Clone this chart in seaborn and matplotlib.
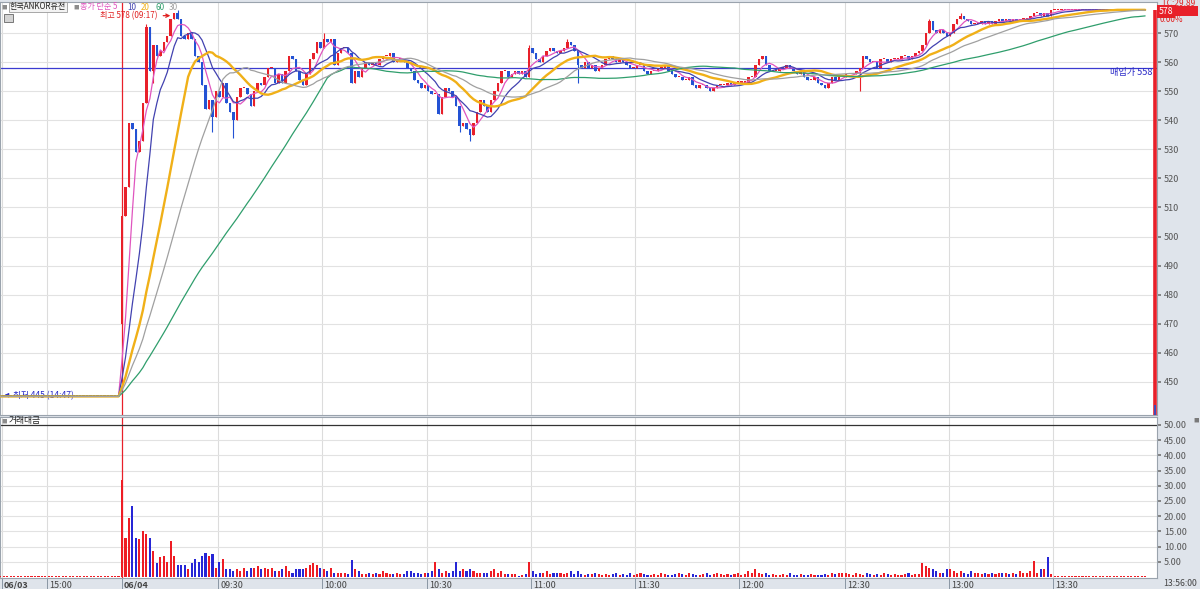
import pandas as pd
import seaborn as sns
import matplotlib.pyplot as plt
from matplotlib.patches import Rectangle
from matplotlib.transforms import ScaledTranslation

sns.set_theme(style="white")
plt.rcParams["font.family"] = ["Noto Sans CJK KR", "DejaVu Sans"]

# 06/03 afternoon: price pinned at 445 (only the last bars are on screen)
prev_close = [445, 445, 445, 445, 445, 445, 445, 445, 445, 445, 445, 445, 445, 445, 445,
              445, 445, 445, 445, 445, 445, 445, 445, 445, 445, 445, 445, 445, 445, 445,
              445, 445, 445, 445, 445, 445, 445, 445, 445, 445, 445, 445, 445, 445, 445,
              445, 445, 445, 445, 445, 445, 445, 445, 445, 445, 445, 445, 445, 445, 445]
prev_vol = [0.3, 0.4, 0.3, 0.3, 0.4, 0.3, 0.3, 0.4, 0.3, 0.3, 0.4, 0.3, 0.3, 0.4, 0.3,
            0.3, 0.4, 0.3, 0.3, 0.4, 0.3, 0.3, 0.4, 0.3, 0.3, 0.4, 0.3, 0.3, 0.4, 0.3,
            0.3, 0.4, 0.3, 0.3, 0.4, 0.3, 0.3, 0.4, 0.3, 0.3, 0.4, 0.3, 0.3, 0.4, 0.3,
            0.3, 0.4, 0.3, 0.3, 0.4, 0.3, 0.3, 0.4, 0.3, 0.3, 0.4, 0.3, 0.3, 0.4, 0.5]

# 06/04 minute bars
first_open = 470
close_0604 = [
    507, 517, 539, 537, 529, 533, 546, 572, 557, 566,
    562, 564, 567, 569, 575, 577, 575, 569, 568, 570,
    568, 562, 560, 552, 544, 547, 541, 550, 548, 553,
    546, 543, 540, 548, 551, 551, 549, 545, 550, 553,
    552, 555, 558, 558, 553, 556, 553, 557, 562, 561,
    557, 554, 552, 556, 561, 563, 567, 565, 568, 567,
    568, 559, 563, 565, 565, 563, 553, 557, 555, 558,
    560, 559, 560, 559, 561, 562, 562, 563, 560, 561,
    561, 560, 558, 557, 554, 553, 551, 552, 550, 549,
    549, 542, 548, 551, 550, 548, 545, 538, 539, 537,
    535, 539, 543, 547, 545, 543, 547, 550, 553, 557,
    557, 555, 556, 557, 556, 557, 555, 565, 563, 561,
    560, 562, 564, 565, 564, 563, 564, 565, 567, 566,
    564, 559, 558, 560, 558, 559, 557, 558, 559, 561,
    562, 561, 560, 561, 560, 559, 558, 558, 559, 559,
    557, 556, 557, 557, 558, 558, 559, 557, 556, 555,
    555, 554, 554, 555, 552, 551, 552, 552, 551, 550,
    551, 552, 552, 552, 553, 552, 553, 553, 553, 553,
    555, 555, 559, 561, 562, 559, 557, 557, 557, 558,
    558, 559, 558, 557, 556, 557, 555, 554, 554, 555,
    553, 552, 551, 553, 555, 554, 555, 555, 556, 556,
    556, 557, 558, 562, 561, 560, 560, 558, 561, 561,
    560, 561, 561, 561, 562, 562, 561, 562, 563, 564,
    566, 570, 574, 571, 570, 571, 570, 569, 570, 573,
    575, 576, 575, 574, 573, 573, 573, 574, 573, 574,
    573, 574, 575, 574, 575, 574, 575, 574, 575, 575,
    575, 576, 577, 577, 576, 577, 576, 578, 578, 578,
    578, 578, 578, 578, 578, 578, 578, 578, 578, 578,
    578, 578, 578, 578, 578, 578, 578, 578, 578, 578,
    578, 578, 578, 578, 578]
vol_0604 = [
    32, 13, 19.5, 23.5, 13, 12.5, 15, 14, 13, 8.5,
    4.5, 6.5, 7, 5, 12, 7, 4, 4, 4, 2.5,
    4.5, 6, 5, 7, 8, 7, 7.5, 3, 5, 6,
    2.5, 2.5, 2, 2.5, 2, 3, 2, 3, 3, 3.5,
    2.5, 3, 2.5, 3, 2, 2, 2.5, 3.5, 2, 1.5,
    2.5, 2.5, 2.5, 3, 4, 4.5, 4, 3, 2.5, 2,
    3, 1.5, 1.5, 1.5, 1.5, 1, 5.5, 2.5, 2, 1,
    1, 1.5, 1, 1.5, 1, 2, 1.5, 1, 1, 1.5,
    1, 1, 2, 2, 1.5, 1.5, 1, 1.5, 1.5, 2,
    5, 2.5, 1.5, 2, 1.5, 2, 4.8, 2, 2.5, 2,
    2.5, 2, 1.5, 1.5, 1.5, 1.5, 2, 2.5, 1.5, 2,
    1, 1, 1, 1, 0.5, 0.8, 1, 5, 2, 1,
    1.5, 1.5, 2, 1, 1.5, 1.2, 1.5, 1, 1.5, 2,
    1, 2, 1, 0.8, 1, 1, 1.2, 1, 0.8, 1,
    0.8, 1, 1.5, 0.8, 1, 0.6, 1.2, 0.8, 1, 1.5,
    1, 0.8, 0.6, 1, 0.8, 1.2, 1, 0.6, 0.8, 1,
    1.5, 1, 0.8, 1.2, 1, 0.6, 0.8, 1, 1.2, 0.8,
    1, 1.5, 1, 0.8, 1, 0.6, 1, 1.2, 0.8, 1,
    2, 1.5, 2.5, 1.5, 1, 1.2, 0.8, 1, 0.6, 0.8,
    1, 0.8, 1.2, 0.6, 0.8, 1, 0.6, 0.8, 1, 0.6,
    0.8, 0.6, 1, 0.8, 1.2, 1, 1.5, 1.2, 1.5, 1,
    0.8, 1.2, 1, 0.8, 1.2, 1, 0.8, 1, 0.8, 1.2,
    1, 0.8, 1, 0.6, 0.8, 1, 1.2, 0.8, 1, 1,
    4.5, 3.5, 3, 2.5, 2, 1.5, 1.5, 2.5, 2.5, 2,
    1.5, 2, 1.5, 1, 2, 1.5, 1.5, 1, 1.5, 1,
    1.5, 1, 1.5, 1.5, 1.5, 1, 1.5, 1, 2, 1.5,
    1.5, 2, 5.2, 1.5, 2.5, 2.5, 6.5, 1, 0.5, 0.5,
    0.3, 0.5, 0.3, 0.3, 0.5, 0.3, 0.3, 0.5, 0.3, 0.3,
    0.5, 0.3, 0.3, 0.3, 0.5, 0.3, 0.3, 0.3, 0.5, 0.3,
    0.3, 0.3, 0.5, 0.3, 0.3]

# wick ends that stick out of the bodies (06/04 bar number -> price)
wick_high = {7: 573, 16: 578, 58: 570, 117: 566, 128: 568, 232: 575, 241: 577}
wick_low = {9: 553, 26: 536, 32: 534, 97: 536, 100: 533, 131: 553, 212: 550}

ma_periods = [5, 10, 20, 60, 30]
ma_colors = ["#e055bf", "#4242b0", "#f0b018", "#2f9e6c", "#a0a0a0"]
ma_widths = [0.9, 0.9, 1.7, 0.9, 0.9]

tick_labels = ["06/03", "15:00", "06/04", "09:30", "10:00", "10:30", "11:00",
               "11:30", "12:00", "12:30", "13:00", "13:30"]
tick_bars = [25.5, 38.4, 60, 87.6, 117.5, 147.6, 177.5, 207.4, 237.3, 267.8, 297.6, 327.5]
buy_price = 558

up_c, down_c = "#e8202a", "#2352d4"
vup_c, vdown_c = "#ee1c24", "#2626d6"

# ---- build table ----
n_prev = len(prev_close)
close = prev_close + close_0604
opens = [close[0]] + close[:-1]
opens[n_prev] = first_open
df = pd.DataFrame({"bar": range(len(close)), "open": opens, "close": close,
                   "vol": prev_vol + vol_0604})
df["up"] = df["close"] >= df["open"]
df["high"] = df[["open", "close"]].max(axis=1)
df["low"] = df[["open", "close"]].min(axis=1)
for k, v in wick_high.items():
    df.loc[n_prev + k, "high"] = max(df.loc[n_prev + k, "high"], v)
for k, v in wick_low.items():
    df.loc[n_prev + k, "low"] = min(df.loc[n_prev + k, "low"], v)
for p in ma_periods:
    df[f"ma{p}"] = df["close"].rolling(p, min_periods=1).mean()

x_left = n_prev - 122 / 3.48
x_right = n_prev + (1157 - 122) / 3.48

# ---- figure ----
fig = plt.figure(figsize=(12, 5.89), dpi=100)
fig.patch.set_facecolor("#dfe4eb")
ax = fig.add_axes([0, 1 - 415 / 589, 1157 / 1200, 413 / 589])
axv = fig.add_axes([0, 1 - 578 / 589, 1157 / 1200, 161 / 589])

for a in (ax, axv):
    a.set_facecolor("white")
    a.set_xlim(x_left, x_right)
    for s in a.spines.values():
        s.set_color("#9aa3ad")
        s.set_linewidth(0.8)
    for t in tick_bars:
        if t == n_prev:
            a.axvline(t, color="#e8202a", lw=0.9, zorder=1)
        else:
            a.axvline(t, color="#dcdcdc", lw=0.8, zorder=0)

# price panel
ax.set_ylim(438.6, 580.7)
for yv in range(450, 580, 10):
    ax.axhline(yv, color="#e2e2e2", lw=0.8, zorder=0)
ax.axhline(buy_price, color="#3b3bd0", lw=0.9, zorder=2)

cols = df["up"].map({True: up_c, False: down_c})
ax.vlines(df["bar"], df["low"], df["high"], colors=cols, lw=0.8, zorder=3)
body = (df["close"] - df["open"]).abs().clip(lower=0.35)
ax.bar(df["bar"], body, bottom=df[["open", "close"]].min(axis=1), width=0.72,
       color=cols, linewidth=0, zorder=3)

for p, c, w in zip(ma_periods, ma_colors, ma_widths):
    sns.lineplot(x=df["bar"], y=df[f"ma{p}"], ax=ax, color=c, lw=w, estimator=None, zorder=4)

# day range bar at the right edge
ax.vlines(x_right - 0.7, 438.6, df["close"].iloc[-1], colors="#e8202a", lw=2.6, zorder=5)
ax.vlines(x_right - 0.7, 438.6, 442, colors="#2352d4", lw=1.2, zorder=6)

ax.yaxis.tick_right()
ax.set_yticks(range(450, 580, 10))
ax.tick_params(axis="y", labelsize=6.5, labelcolor="#555555", color="#777777",
               length=3, pad=2, direction="out", right=True)
ax.set_xticks([])
ax.set_xlabel("")
ax.set_ylabel("")

# high / low marks
hi_bar = int(df["high"].idxmax())
ax.annotate("최고 578 (09:17)", xy=(hi_bar - 1.3, df["high"].max() - 2.0),
            xytext=(-16, 0), textcoords="offset pixels", ha="right", va="center",
            fontsize=5.8, color="#e02020",
            arrowprops=dict(arrowstyle="->", color="#e02020", lw=0.9))
ax.annotate("최저 445 (14:47)", xy=(x_left + 0.4, 445.4), xytext=(12, 0),
            textcoords="offset pixels", ha="left", va="center", fontsize=6.2,
            color="#2a2ac8",
            arrowprops=dict(arrowstyle="-|>", color="#2a2ac8", lw=0.8, mutation_scale=6))
ax.text(x_right - 1.2, buy_price - 1.6, "매입가 558", ha="right", va="center",
        fontsize=6.6, color="#2a2ac8", zorder=6)

# volume panel
axv.set_ylim(-0.3, 52.6)
for yv in range(5, 50, 5):
    axv.axhline(yv, color="#e2e2e2", lw=0.8, zorder=0)
axv.axhline(50, color="#333333", lw=0.9, zorder=1)
vcols = df["up"].map({True: vup_c, False: vdown_c})
axv.bar(df["bar"], df["vol"], width=0.6, color=vcols, linewidth=0, zorder=3)
axv.yaxis.tick_right()
axv.set_yticks(range(5, 55, 5))
axv.set_yticklabels([f"{v:.2f}" for v in range(5, 55, 5)])
axv.tick_params(axis="y", labelsize=6.5, labelcolor="#555555", color="#777777",
                length=3, pad=2, direction="out", right=True)
axv.set_xticks(tick_bars)
axv.set_xticklabels(tick_labels)
axv.tick_params(axis="x", labelsize=6.5, labelcolor="#444444", color="#8a96a3",
                length=11, width=0.7, pad=-9, direction="out", bottom=True)
for lbl in axv.get_xticklabels():
    lbl.set_ha("left")
    lbl.set_transform(lbl.get_transform() + ScaledTranslation(2 / 100, 0, fig.dpi_scale_trans))
    if "/" in lbl.get_text():
        lbl.set_fontweight("bold")
axv.set_xlabel("")
axv.set_ylabel("")


def fx(px):
    return px / 1200


def fy(py):
    return 1 - py / 589


# header texts
fig.text(fx(1), fy(7), "■", fontsize=4, color="#8c8c8c", va="center")
fig.text(fx(10), fy(7), "한국ANKOR유전", fontsize=5.8, color="#222222", va="center",
         bbox=dict(boxstyle="square,pad=0.12", fc="#f3f3f3", ec="#9a9a9a", lw=0.6))
fig.text(fx(73), fy(7), "■", fontsize=4, color="#8c8c8c", va="center")
fig.text(fx(80), fy(7), "종가 단순 5", fontsize=5.8, color=ma_colors[0], va="center")
for px, p, c in zip([127, 141, 155, 169], ma_periods[1:], ma_colors[1:]):
    fig.text(fx(px), fy(7), str(p), fontsize=5.8, color=c, va="center")
fig.add_artist(Rectangle((fx(4), fy(22)), 9 / 1200, 8 / 589, transform=fig.transFigure,
                         fc="#d4d4d4", ec="#666666", lw=0.6))
fig.text(fx(1), fy(421), "■", fontsize=4, color="#8c8c8c", va="center")
fig.text(fx(9), fy(421), "거래대금", fontsize=6.3, color="#222222", va="center")
fig.text(fx(1193), fy(420), "■", fontsize=4, color="#7a7a7a", va="center")

# current price tag on the price scale
fig.text(fx(1162), fy(3), "LC:29.89", fontsize=6, color="#e02020", va="center")
fig.text(fx(1159), fy(11.5), "578", fontsize=6.3, color="white", va="center",
         bbox=dict(boxstyle="square,pad=0.2", fc="#e8202a", ec="none"))
fig.add_artist(Rectangle((fx(1158), fy(16)), 40 / 1200, 10 / 589, transform=fig.transFigure,
                         fc="#e8202a", ec="none", zorder=-1))
fig.text(fx(1160), fy(20), "0.00%", fontsize=6, color="#e02020", va="center")
fig.text(fx(1163), fy(584), "13:56:00", fontsize=6.3, color="#444444", va="center")

fig.savefig("out.png", dpi=100, facecolor=fig.get_facecolor())
